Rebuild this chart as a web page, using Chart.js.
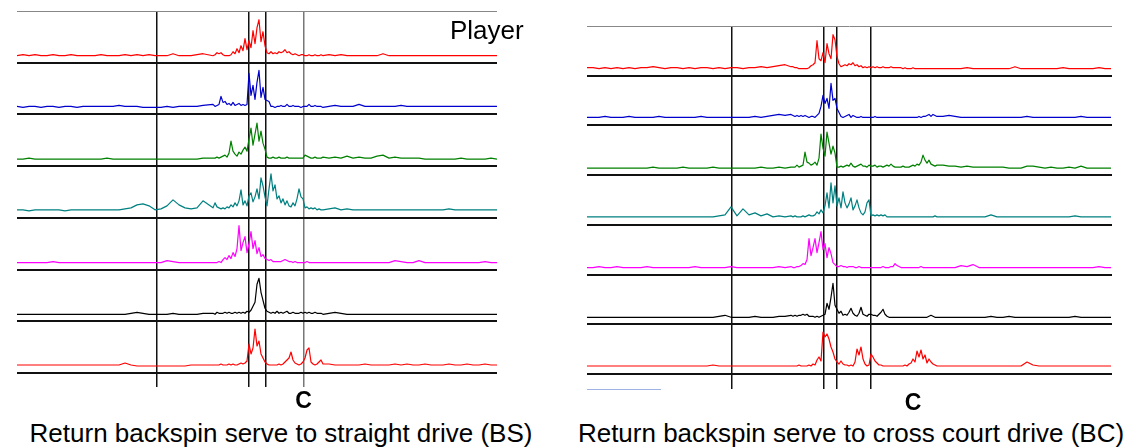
<!DOCTYPE html>
<html>
<head>
<meta charset="utf-8">
<script src="https://cdn.jsdelivr.net/npm/chart.js@4.4.1/dist/chart.umd.min.js"></script>
<style>
  body { margin: 0; width: 1132px; height: 448px; background: #fff; position: relative; overflow: hidden;
         font-family: "Liberation Sans", Arial, sans-serif; }
  canvas { position: absolute; }
  .txt { position: absolute; white-space: nowrap; color: #000; font-size: 26px; line-height: 26px; }
</style>
</head>
<body>
<canvas id="panelBS" width="480" height="404" style="left:17px;top:11px"></canvas>
<canvas id="panelBC" width="525" height="390" style="left:587px;top:26px"></canvas>
<div class="txt" style="left:450px;top:17px">Player</div>
<div class="txt" style="left:281px;top:420px;transform:translateX(-50%)">Return backspin serve to straight drive (BS)</div>
<div class="txt" style="left:851px;top:420px;transform:translateX(-50%)">Return backspin serve to cross court drive (BC)</div>
<div style="position:absolute;left:587px;top:389px;width:74px;height:1px;background:#9fb3e3"></div>
<script>
// trace colours, top row to bottom row
const muscleColors = ["#ff0000", "#0000cc", "#008000", "#008080", "#ff00ff", "#000000", "#ff0000"];

// ---- left panel: straight drive (BS) ----
const timeBS = [
  0,6,12,18,24,30,36,42,48,54,60,66,72,78,84,90,96,102,108,114,120,126,132,138,144,150,156,162,168,174,180,186,
  196,198,200,202,204,206,208,210,212,214,216,218,220,222,224,226,228,230,232,234,236,238,240,242,244,246,248,250,
  252,254,256,258,260,262,264,266,268,270,272,274,276,278,280,282,284,286,288,290,292,294,296,298,300,302,304,306,
  312,318,324,330,336,342,348,354,360,366,372,378,384,390,396,402,408,414,420,426,432,438,444,450,456,462,468,474,480
];
const eventsBS = [140, 232, 249, 287];
const labelBS = 286.5;

const redBS = [
  0,1,0,1,0,0,1,0,0,1,0,0,0,0,1,0,0,0,1,0,1,0,1,0,0,0,2,0,0,0,1,2,
  0,1,3,2,3,1,0,0,0,1, 4,2,7,3,10,5,17,6,15,8, 25,12,28,36,14,24,10,3,2,4, 2,3,2,4,3,4,6,3,4,2, 1,2,1,0,1,1,0,0,1,0, 0,1,0,0,1,0,
  1,0,1,0,0,0,0,0,0,2,0,0,0,0,0,0,0,0,0,0,0,0,0,0,0,0,0,0,0
];
const blueBS = [
  1,0,1,1,0,1,1,0,1,1,0,1,1,1,1,1,1,2,1,1,1,0,0,0,0,1,0,1,1,1,1,2,
  3,1,2,3,11,5,6,3,4,2, 5,2,3,4,2,3,2,3,34,12, 22,8,25,37,10,20,8,7,6,1, 1,0,1,1,2,1,1,3,1,1, 2,1,1,1,0,1,1,1,3,1, 1,2,1,1,1,0,
  1,2,1,1,1,3,1,1,1,1,1,1,2,1,1,1,1,1,1,1,1,1,1,1,1,1,1,1,1
];
const greenBS = [
  0,0,1,0,0,0,0,0,0,0,0,0,0,0,0,1,0,0,0,0,0,0,0,0,0,0,0,0,0,0,0,1,
  1,1,2,1,2,3,4,2,6,18, 8,5,3,7,5,9,12,8,20,31, 14,25,36,18,28,16,10,2,1,1, 2,1,1,2,1,1,1,2,1,1, 1,1,1,1,1,1,4,3,2,1, 1,2,1,1,1,2,
  1,2,1,3,1,2,1,1,3,4,1,2,1,1,1,1,0,0,0,0,0,0,1,0,0,0,0,1,0
];
const tealBS = [
  1,1,0,1,1,1,1,1,0,1,1,1,1,1,1,1,1,1,2,3,6,7,5,1,2,5,11,6,3,2,3,10,
  3,8,4,3,2,3,2,4,3,6, 4,8,5,10,21,6,10,5,15,18, 9,14,22,12,33,25,14,5,22,37, 20,26,12,15,8,12,6,10,5,4, 8,5,12,22,14,12,3,4,2,3, 2,3,1,2,1,1,
  2,3,1,2,1,1,1,1,1,1,1,1,1,1,1,1,1,1,1,1,2,1,1,1,1,1,1,1,1
];
const magentaBS = [
  0,0,0,0,0,0,1,0,0,0,0,0,0,0,0,0,0,0,0,0,0,0,0,0,0,2,1,0,0,0,0,0,
  0,0,0,1,0,3,5,3,7,4, 10,6,14,37,12,20,26,10,19,31, 14,22,9,15,6,8,4,3,2,3, 1,1,1,1,1,2,3,2,1,1, 0,1,0,0,0,0,0,1,0,0, 0,0,0,0,0,0,
  0,0,0,0,0,0,0,0,0,0,0,2,1,0,0,2,0,0,0,0,0,0,0,0,0,0,1,0,0
];
const blackBS = [
  0,0,0,0,0,0,0,0,0,0,0,0,0,0,0,0,0,0,0,1,2,1,0,0,0,0,1,0,0,0,0,1,
  1,0,2,1,1,1,2,1,2,1, 1,2,1,2,1,2,1,3,2,4, 8,12,30,36,22,14,6,3,2,1, 2,1,3,1,2,1,2,3,1,1, 2,1,1,1,2,1,2,1,2,1, 1,2,1,1,1,0,
  1,2,1,0,0,0,0,0,0,0,0,0,0,0,0,0,0,0,0,0,0,0,0,0,0,0,0,0,0
];
const red2BS = [
  1,1,1,1,1,1,1,1,1,1,1,1,1,1,1,1,1,1,3,1,0,0,0,0,0,0,0,0,0,1,1,1,
  1,1,1,1,2,1,1,1,2,1, 2,1,1,2,3,2,3,5,22,12, 18,37,20,25,12,8,4,2,1,1, 1,1,1,2,1,2,4,6,8,14, 6,3,2,1,2,4,8,16,18,4, 2,1,2,4,6,2,
  2,1,1,1,1,1,2,1,1,1,1,2,1,2,1,1,2,1,1,1,2,1,1,2,1,1,2,1,1
];

// ---- right panel: cross court drive (BC) ----
const timeBC = [
  0,6,12,18,24,30,36,42,48,54,60,66,72,78,84,90,96,102,108,114,120,126,132,138,144,150,156,162,168,174,180,186,192,198,204,
  206,208,210,212,214,216,218,220,222,224,226,228,230,232,234,236,238,240,242,244,246,248,250,252,254,256,258,260,
  262,264,266,268,270,272,274,276,278,280,282,284,286,288,290,292,294,296,298,300,302,304,306,308,310,312,314,316,
  318,320,322,324,326,328,330,332,334,336,338,340,342,344,346,348,350,
  356,362,368,374,380,386,392,398,404,410,416,422,428,434,440,446,452,458,464,470,476,482,488,494,500,506,512,518,524
];
const eventsBC = [145, 237, 250, 284];
const labelBC = 326;

const redBC = [
  1,1,0,1,0,1,0,1,0,1,1,2,1,0,1,1,0,1,0,1,1,0,1,0,1,1,0,1,1,2,1,2,3,4,2,
  2,1,1,0,0,0,0,0,1,3, 4,6,28,10,8,16,6,25,15,10, 34,29,12,5,2,3,4,3,5,4, 6,3,4,2,3,1,2,1,2,1,
  2,1,2,1,1,2,1,1,1,2, 1,1,1,1,1,0,1,0,0,0, 1,0,0,0,0,0,0,0,0,0, 0,0,0,
  0,0,0,0,1,0,0,0,0,0,0,0,2,0,0,0,0,0,0,0,1,0,0,0,0,0,1,0,0
];
const blueBC = [
  1,1,1,2,1,1,1,2,1,1,1,1,2,1,1,1,1,1,1,2,1,1,1,1,1,1,1,1,2,1,2,3,4,3,4,
  3,2,3,2,3,2,3,2,1,2, 2,1,3,5,12,23,15,20,10,35, 18,20,10,6,2,1,2,3,4,1, 3,2,1,1,2,1,1,1,1,1,
  1,2,1,1,1,1,1,1,1,1, 1,1,1,1,1,1,1,1,1,1, 1,1,1,2,1,2,2,3,4,2, 4,3,2,
  2,3,2,1,1,1,1,1,1,1,1,1,1,1,2,1,1,1,1,1,1,1,1,2,1,1,1,1,1
];
const greenBC = [
  0,0,0,0,0,0,0,0,0,0,0,1,0,0,0,0,1,0,0,0,0,1,0,0,0,0,0,0,0,1,0,0,1,0,1,
  1,1,3,1,2,3,16,6,5,3, 4,6,3,10,34,20,12,36,25,14, 22,15,1,1,2,1,2,3,2,5, 2,1,2,3,4,2,2,1,3,2,
  2,3,1,2,2,1,2,3,2,4, 2,1,1,1,1,2,1,1,1,2, 3,2,4,3,6,13,8,5,8,4, 3,2,3,
  3,2,2,1,2,1,1,1,1,1,1,0,0,0,2,2,1,0,1,0,0,1,0,2,0,0,0,0,0
];
const tealBC = [
  1,1,1,1,1,1,1,1,1,1,1,1,1,1,1,1,1,1,1,1,1,1,2,3,11,2,9,3,5,2,4,1,2,1,2,
  1,2,1,1,1,2,1,2,3,2, 2,3,6,4,8,5,12,25,10,35, 15,32,12,20,10,26,15,10,14,20, 8,12,18,10,5,3,6,15,18,2,
  3,2,3,2,3,2,3,1,1,1, 1,1,1,1,1,1,1,1,1,1, 1,1,1,1,1,1,1,1,1,1, 1,2,1,
  1,1,1,1,1,1,1,1,3,1,1,1,1,1,1,1,1,1,1,1,1,1,2,1,1,1,1,1,1
];
const magentaBC = [
  0,0,1,0,0,1,0,0,0,0,1,0,0,0,0,0,0,0,1,0,0,0,0,0,1,0,0,0,0,0,0,0,1,0,1,
  0,0,1,1,2,4,3,8,29,12, 20,29,15,25,36,18,24,10,20,14, 5,3,1,1,2,1,1,0,1,1, 1,0,0,1,0,0,0,0,0,0,
  0,0,0,0,0,1,0,0,0,1, 1,4,2,1,0,0,0,0,0,0, 0,0,0,0,1,0,0,0,0,0, 0,0,0,
  0,0,0,2,1,3,0,0,0,0,0,0,0,0,0,0,0,0,0,0,0,0,0,0,0,0,1,0,0
];
const blackBC = [
  0,0,0,0,0,0,0,0,0,0,0,0,0,0,0,0,0,0,0,0,0,0,1,2,0,0,0,0,1,0,0,0,1,1,2,
  1,2,1,2,2,3,2,3,1,1, 1,0,1,0,1,2,3,14,8,20, 34,12,8,4,6,2,3,2,5,9, 4,2,1,4,10,3,2,1,3,3,
  2,2,1,3,5,8,3,1,0,0, 0,0,0,0,0,0,0,0,0,0, 0,0,0,0,0,0,0,0,1,2, 1,0,0,
  0,0,0,0,0,0,0,0,1,0,0,1,0,0,0,0,0,0,0,0,0,0,1,0,0,0,0,0,0
];
const red2BC = [
  1,1,1,1,1,1,1,1,1,1,1,1,1,1,1,1,1,1,1,1,1,2,1,1,1,1,1,1,1,1,1,1,1,1,1,
  1,1,1,2,1,1,1,1,2,1, 3,2,7,10,6,35,30,33,28,20, 15,8,5,3,6,3,2,2,1,2, 1,5,18,12,20,8,3,1,2,13,
  10,6,4,2,2,1,1,1,1,1, 1,1,1,1,1,1,2,1,3,4, 8,5,16,10,17,8,12,4,8,5, 3,2,1,
  1,1,1,1,1,1,1,1,1,1,1,1,1,1,5,2,1,1,1,1,1,1,1,1,1,1,1,1,1
];

function drawPanel(canvasId, time, rows, events, labelAt, rowHeight, xMax, tickLength, greyLine) {
  const top = 7 * rowHeight;
  const datasets = rows.map((values, i) => ({
    // each row sits 7 units above its separator line
    data: time.map((t, k) => ({ x: t, y: (6 - i) * rowHeight + 7 + values[k] })),
    borderColor: muscleColors[i],
    borderWidth: 1.2,
    borderJoinStyle: "round",
    pointRadius: 0,
    tension: 0,
  }));
  const tickValues = events.concat([labelAt]).sort((a, b) => a - b);

  new Chart(document.getElementById(canvasId), {
    type: "line",
    data: { datasets },
    options: {
      responsive: false,
      animation: false,
      events: [],
      layout: { padding: 0 },
      plugins: { legend: { display: false }, tooltip: { enabled: false } },
      scales: {
        x: {
          type: "linear",
          min: 0,
          max: xMax,
          afterBuildTicks: (axis) => { axis.ticks = tickValues.map((v) => ({ value: v })); },
          afterFit: (axis) => { axis.height = 42; },
          border: { display: false },
          grid: {
            tickLength: tickLength,
            lineWidth: 1.5,
            color: (ctx) => {
              if (!ctx.tick) return "#111";
              if (ctx.tick.value === labelAt) return "rgba(0,0,0,0)";
              return ctx.tick.value === greyLine ? "#777" : "#111";
            },
          },
          ticks: {
            autoSkip: false,
            maxRotation: 0,
            padding: 1,
            color: "#000",
            font: { family: "Liberation Sans", size: 23, weight: "bold" },
            callback: (v) => (v === labelAt ? "C" : ""),
          },
        },
        y: {
          type: "linear",
          min: 0,
          max: top,
          afterBuildTicks: (axis) => {
            axis.ticks = [0, 1, 2, 3, 4, 5, 6, 7].map((r) => ({ value: r * rowHeight }));
          },
          afterFit: (axis) => { axis.width = 0; },
          border: { display: false },
          ticks: { display: false },
          grid: {
            drawTicks: false,
            color: (ctx) => (ctx.tick && ctx.tick.value > top - 1 ? "#888" : "#111"),
            lineWidth: (ctx) => (ctx.tick && ctx.tick.value > top - 1 ? 1 : 2),
          },
        },
      },
    },
  });
}

drawPanel("panelBS", timeBS, [redBS, blueBS, greenBS, tealBS, magentaBS, blackBS, red2BS],
  eventsBS, labelBS, 362 / 7, 480, 14, 287);
drawPanel("panelBC", timeBC, [redBC, blueBC, greenBC, tealBC, magentaBC, blackBC, red2BC],
  eventsBC, labelBC, 348 / 7, 525, 15, null);
</script>
</body>
</html>
